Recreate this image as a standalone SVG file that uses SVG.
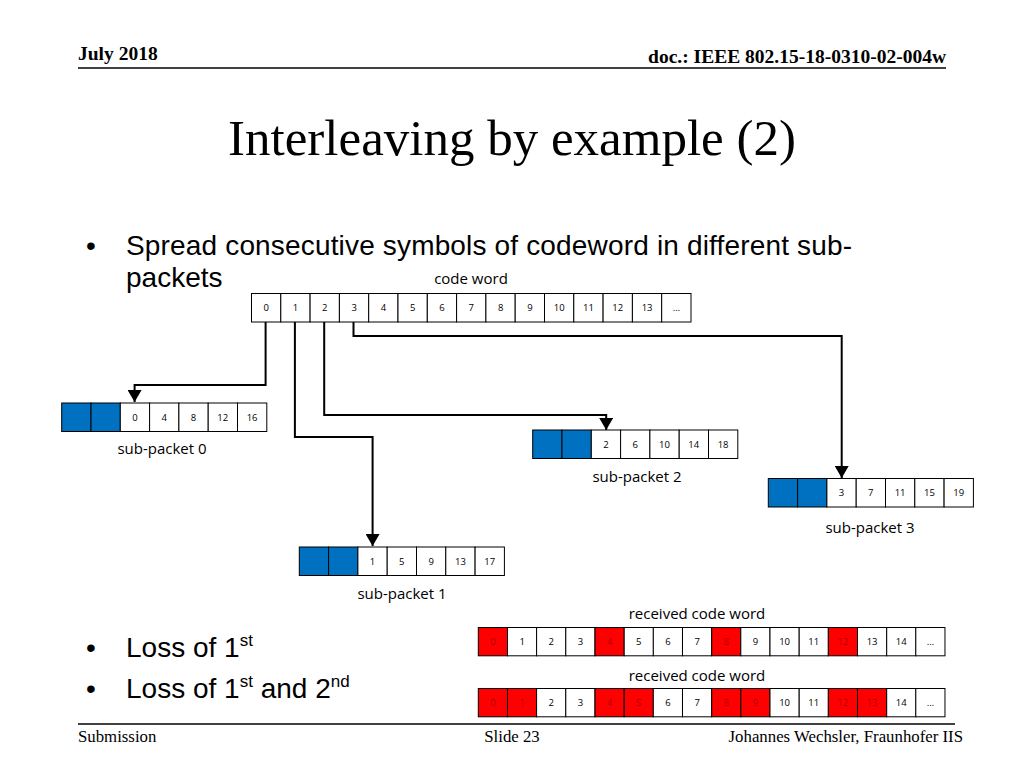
<svg xmlns="http://www.w3.org/2000/svg" width="1024" height="768" viewBox="0 0 1024 768">
<defs>
<style>
.hdr{font-family:"Liberation Serif",serif;font-weight:bold;font-size:19.5px;fill:#000}
.ftr{font-family:"Liberation Serif",serif;font-size:16.8px;fill:#000}
.title{font-family:"Liberation Serif",serif;font-size:51px;fill:#000}
.body{font-family:"Liberation Sans",Arial,sans-serif;font-size:28px;fill:#000}
.sup{font-size:17px}
.lbl{font-family:"Open Sans","Liberation Sans",sans-serif;font-size:15px;fill:#000}
.num{font-family:"Open Sans","Liberation Sans",sans-serif;font-size:9.5px;fill:#000;text-anchor:middle}
.numr{font-family:"Open Sans","Liberation Sans",sans-serif;font-size:9.5px;fill:#B00000;text-anchor:middle}
.c{fill:#fff;stroke:#000;stroke-width:1}
.b{fill:#0070C0;stroke:#000;stroke-width:1}
.r{fill:#FF0000;stroke:#000;stroke-width:1}
.conn{fill:none;stroke:#000;stroke-width:2}
</style>
<marker id="ah" markerUnits="userSpaceOnUse" markerWidth="12" markerHeight="14" viewBox="0 0 12 14" refX="12" refY="7" orient="auto">
<path d="M0,0 L12,7 L0,14 Z" fill="#000"/>
</marker>
</defs>

<g id="header">
<text class="hdr" x="78" y="60">July 2018</text>
<text class="hdr" x="946" y="63" text-anchor="end">doc.: IEEE 802.15-18-0310-02-004w</text>
<line x1="78" y1="68" x2="946" y2="68" stroke="#000" stroke-width="1.5"/>
</g>

<text class="title" x="512" y="155" text-anchor="middle">Interleaving by example (2)</text>

<g id="bullets">
<text class="body" x="86" y="255">•</text>
<text class="body" x="126" y="255" textLength="726" lengthAdjust="spacing">Spread consecutive symbols of codeword in different sub-</text>
<text class="body" x="126" y="287">packets</text>
<text class="body" x="86" y="657">•</text>
<text class="body" x="126" y="657">Loss of 1<tspan class="sup" dy="-11">st</tspan></text>
<text class="body" x="86" y="698">•</text>
<text class="body" x="126" y="698">Loss of 1<tspan class="sup" dy="-11">st</tspan><tspan dy="11"> and 2</tspan><tspan class="sup" dy="-11">nd</tspan></text>
</g>

<g id="codeword">
<text class="lbl" x="471" y="284" text-anchor="middle">code word</text>
<rect class="c" x="251.5" y="293.5" width="29.3" height="28.5"/>
<rect class="c" x="280.8" y="293.5" width="29.3" height="28.5"/>
<rect class="c" x="310.1" y="293.5" width="29.3" height="28.5"/>
<rect class="c" x="339.4" y="293.5" width="29.3" height="28.5"/>
<rect class="c" x="368.7" y="293.5" width="29.3" height="28.5"/>
<rect class="c" x="398.0" y="293.5" width="29.3" height="28.5"/>
<rect class="c" x="427.3" y="293.5" width="29.3" height="28.5"/>
<rect class="c" x="456.6" y="293.5" width="29.3" height="28.5"/>
<rect class="c" x="485.9" y="293.5" width="29.3" height="28.5"/>
<rect class="c" x="515.2" y="293.5" width="29.3" height="28.5"/>
<rect class="c" x="544.5" y="293.5" width="29.3" height="28.5"/>
<rect class="c" x="573.8" y="293.5" width="29.3" height="28.5"/>
<rect class="c" x="603.1" y="293.5" width="29.3" height="28.5"/>
<rect class="c" x="632.4" y="293.5" width="29.3" height="28.5"/>
<rect class="c" x="661.7" y="293.5" width="29.3" height="28.5"/>
<text class="num" x="266.2" y="311">0</text>
<text class="num" x="295.5" y="311">1</text>
<text class="num" x="324.8" y="311">2</text>
<text class="num" x="354.1" y="311">3</text>
<text class="num" x="383.4" y="311">4</text>
<text class="num" x="412.7" y="311">5</text>
<text class="num" x="442.0" y="311">6</text>
<text class="num" x="471.3" y="311">7</text>
<text class="num" x="500.6" y="311">8</text>
<text class="num" x="529.9" y="311">9</text>
<text class="num" x="559.2" y="311">10</text>
<text class="num" x="588.5" y="311">11</text>
<text class="num" x="617.8" y="311">12</text>
<text class="num" x="647.1" y="311">13</text>
<text class="num" x="676.4" y="311">…</text>
</g>

<g id="connectors">
<path class="conn" d="M265.6 322 V385 H134.6 V402" marker-end="url(#ah)"/>
<path class="conn" d="M294.9 322 V437 H372.6 V546" marker-end="url(#ah)"/>
<path class="conn" d="M324.2 322 V415 H606.2 V430" marker-end="url(#ah)"/>
<path class="conn" d="M353.5 322 V336 H841.7 V478" marker-end="url(#ah)"/>
</g>

<g id="subpacket0">
<rect class="b" x="61.7" y="403" width="29.3" height="28.5"/>
<rect class="b" x="91.0" y="403" width="29.3" height="28.5"/>
<rect class="c" x="120.3" y="403" width="29.3" height="28.5"/>
<rect class="c" x="149.6" y="403" width="29.3" height="28.5"/>
<rect class="c" x="178.9" y="403" width="29.3" height="28.5"/>
<rect class="c" x="208.2" y="403" width="29.3" height="28.5"/>
<rect class="c" x="237.5" y="403" width="29.3" height="28.5"/>
<text class="num" x="134.9" y="420.5">0</text>
<text class="num" x="164.2" y="420.5">4</text>
<text class="num" x="193.5" y="420.5">8</text>
<text class="num" x="222.8" y="420.5">12</text>
<text class="num" x="252.1" y="420.5">16</text>
<text class="lbl" x="162" y="454" text-anchor="middle">sub-packet 0</text>
</g>

<g id="subpacket2">
<rect class="b" x="532.7" y="430" width="29.3" height="28.5"/>
<rect class="b" x="562.0" y="430" width="29.3" height="28.5"/>
<rect class="c" x="591.3" y="430" width="29.3" height="28.5"/>
<rect class="c" x="620.6" y="430" width="29.3" height="28.5"/>
<rect class="c" x="649.9" y="430" width="29.3" height="28.5"/>
<rect class="c" x="679.2" y="430" width="29.3" height="28.5"/>
<rect class="c" x="708.5" y="430" width="29.3" height="28.5"/>
<text class="num" x="605.9" y="447.5">2</text>
<text class="num" x="635.2" y="447.5">6</text>
<text class="num" x="664.5" y="447.5">10</text>
<text class="num" x="693.8" y="447.5">14</text>
<text class="num" x="723.1" y="447.5">18</text>
<text class="lbl" x="637" y="482" text-anchor="middle">sub-packet 2</text>
</g>

<g id="subpacket3">
<rect class="b" x="768.3" y="478.5" width="29.3" height="28.5"/>
<rect class="b" x="797.6" y="478.5" width="29.3" height="28.5"/>
<rect class="c" x="826.9" y="478.5" width="29.3" height="28.5"/>
<rect class="c" x="856.2" y="478.5" width="29.3" height="28.5"/>
<rect class="c" x="885.5" y="478.5" width="29.3" height="28.5"/>
<rect class="c" x="914.8" y="478.5" width="29.3" height="28.5"/>
<rect class="c" x="944.1" y="478.5" width="29.3" height="28.5"/>
<text class="num" x="841.5" y="496">3</text>
<text class="num" x="870.8" y="496">7</text>
<text class="num" x="900.1" y="496">11</text>
<text class="num" x="929.4" y="496">15</text>
<text class="num" x="958.7" y="496">19</text>
<text class="lbl" x="870" y="533" text-anchor="middle">sub-packet 3</text>
</g>

<g id="subpacket1">
<rect class="b" x="299.3" y="547" width="29.3" height="28.5"/>
<rect class="b" x="328.6" y="547" width="29.3" height="28.5"/>
<rect class="c" x="357.9" y="547" width="29.3" height="28.5"/>
<rect class="c" x="387.2" y="547" width="29.3" height="28.5"/>
<rect class="c" x="416.5" y="547" width="29.3" height="28.5"/>
<rect class="c" x="445.8" y="547" width="29.3" height="28.5"/>
<rect class="c" x="475.1" y="547" width="29.3" height="28.5"/>
<text class="num" x="372.5" y="564.5">1</text>
<text class="num" x="401.8" y="564.5">5</text>
<text class="num" x="431.1" y="564.5">9</text>
<text class="num" x="460.4" y="564.5">13</text>
<text class="num" x="489.7" y="564.5">17</text>
<text class="lbl" x="402" y="599" text-anchor="middle">sub-packet 1</text>
</g>

<g id="received1">
<text class="lbl" x="697" y="619" text-anchor="middle">received code word</text>
<rect class="r" x="478.3" y="627.5" width="29.17" height="28.3"/>
<rect class="c" x="507.5" y="627.5" width="29.17" height="28.3"/>
<rect class="c" x="536.6" y="627.5" width="29.17" height="28.3"/>
<rect class="c" x="565.8" y="627.5" width="29.17" height="28.3"/>
<rect class="r" x="595.0" y="627.5" width="29.17" height="28.3"/>
<rect class="c" x="624.2" y="627.5" width="29.17" height="28.3"/>
<rect class="c" x="653.3" y="627.5" width="29.17" height="28.3"/>
<rect class="c" x="682.5" y="627.5" width="29.17" height="28.3"/>
<rect class="r" x="711.7" y="627.5" width="29.17" height="28.3"/>
<rect class="c" x="740.8" y="627.5" width="29.17" height="28.3"/>
<rect class="c" x="770.0" y="627.5" width="29.17" height="28.3"/>
<rect class="c" x="799.2" y="627.5" width="29.17" height="28.3"/>
<rect class="r" x="828.3" y="627.5" width="29.17" height="28.3"/>
<rect class="c" x="857.5" y="627.5" width="29.17" height="28.3"/>
<rect class="c" x="886.7" y="627.5" width="29.17" height="28.3"/>
<rect class="c" x="915.8" y="627.5" width="29.17" height="28.3"/>
<text class="numr" x="492.9" y="645">0</text>
<text class="num" x="522.1" y="645">1</text>
<text class="num" x="551.2" y="645">2</text>
<text class="num" x="580.4" y="645">3</text>
<text class="numr" x="609.6" y="645">4</text>
<text class="num" x="638.8" y="645">5</text>
<text class="num" x="667.9" y="645">6</text>
<text class="num" x="697.1" y="645">7</text>
<text class="numr" x="726.3" y="645">8</text>
<text class="num" x="755.4" y="645">9</text>
<text class="num" x="784.6" y="645">10</text>
<text class="num" x="813.8" y="645">11</text>
<text class="numr" x="842.9" y="645">12</text>
<text class="num" x="872.1" y="645">13</text>
<text class="num" x="901.3" y="645">14</text>
<text class="num" x="930.4" y="645">…</text>
</g>

<g id="received2">
<text class="lbl" x="697" y="681" text-anchor="middle">received code word</text>
<rect class="r" x="478.3" y="688.5" width="29.17" height="28.3"/>
<rect class="r" x="507.5" y="688.5" width="29.17" height="28.3"/>
<rect class="c" x="536.6" y="688.5" width="29.17" height="28.3"/>
<rect class="c" x="565.8" y="688.5" width="29.17" height="28.3"/>
<rect class="r" x="595.0" y="688.5" width="29.17" height="28.3"/>
<rect class="r" x="624.2" y="688.5" width="29.17" height="28.3"/>
<rect class="c" x="653.3" y="688.5" width="29.17" height="28.3"/>
<rect class="c" x="682.5" y="688.5" width="29.17" height="28.3"/>
<rect class="r" x="711.7" y="688.5" width="29.17" height="28.3"/>
<rect class="r" x="740.8" y="688.5" width="29.17" height="28.3"/>
<rect class="c" x="770.0" y="688.5" width="29.17" height="28.3"/>
<rect class="c" x="799.2" y="688.5" width="29.17" height="28.3"/>
<rect class="r" x="828.3" y="688.5" width="29.17" height="28.3"/>
<rect class="r" x="857.5" y="688.5" width="29.17" height="28.3"/>
<rect class="c" x="886.7" y="688.5" width="29.17" height="28.3"/>
<rect class="c" x="915.8" y="688.5" width="29.17" height="28.3"/>
<text class="numr" x="492.9" y="706">0</text>
<text class="numr" x="522.1" y="706">1</text>
<text class="num" x="551.2" y="706">2</text>
<text class="num" x="580.4" y="706">3</text>
<text class="numr" x="609.6" y="706">4</text>
<text class="numr" x="638.8" y="706">5</text>
<text class="num" x="667.9" y="706">6</text>
<text class="num" x="697.1" y="706">7</text>
<text class="numr" x="726.3" y="706">8</text>
<text class="numr" x="755.4" y="706">9</text>
<text class="num" x="784.6" y="706">10</text>
<text class="num" x="813.8" y="706">11</text>
<text class="numr" x="842.9" y="706">12</text>
<text class="numr" x="872.1" y="706">13</text>
<text class="num" x="901.3" y="706">14</text>
<text class="num" x="930.4" y="706">…</text>
</g>

<g id="footer">
<line x1="78" y1="724" x2="955" y2="724" stroke="#000" stroke-width="1.5"/>
<text class="ftr" x="78" y="742">Submission</text>
<text class="ftr" x="512" y="742" text-anchor="middle">Slide 23</text>
<text class="ftr" x="963" y="742" text-anchor="end">Johannes Wechsler, Fraunhofer IIS</text>
</g>
</svg>
